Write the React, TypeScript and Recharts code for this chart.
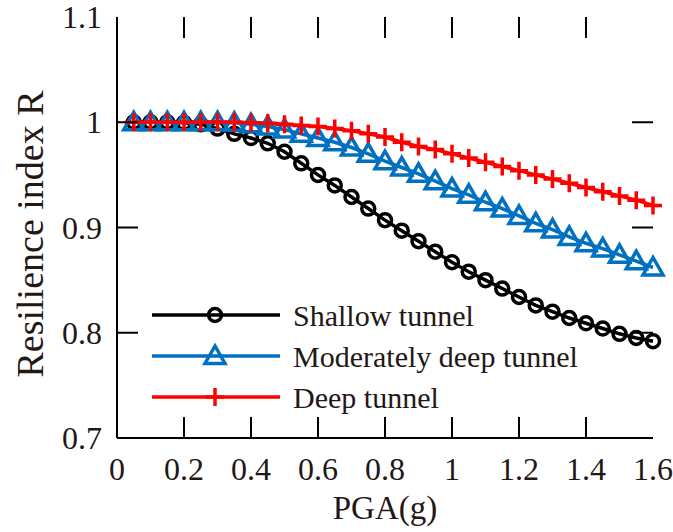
import { LineChart, Line, XAxis, YAxis, Legend } from 'recharts';

const pga = [
  0.05, 0.1, 0.15, 0.2, 0.25, 0.3, 0.35, 0.4, 0.45, 0.5, 0.55, 0.6, 0.65, 0.7, 0.75, 0.8,
  0.85, 0.9, 0.95, 1.0, 1.05, 1.1, 1.15, 1.2, 1.25, 1.3, 1.35, 1.4, 1.45, 1.5, 1.55, 1.6,
];
const shallow = [
  1.0, 1.0, 1.0, 0.9995, 0.998, 0.994, 0.989, 0.985, 0.98, 0.972, 0.961, 0.95, 0.94, 0.929, 0.918, 0.907,
  0.897, 0.887, 0.877, 0.867, 0.858, 0.85, 0.842, 0.834, 0.826, 0.82, 0.814, 0.809, 0.804, 0.799, 0.795, 0.792,
];
const moderate = [
  1.0, 1.0, 1.0, 1.0, 1.0, 1.0, 0.9995, 0.998, 0.996, 0.993, 0.989, 0.985, 0.981, 0.976, 0.97, 0.963,
  0.957, 0.951, 0.944, 0.937, 0.931, 0.924, 0.918, 0.911, 0.904, 0.898, 0.891, 0.885, 0.88, 0.874, 0.868, 0.862,
];
const deep = [
  1.0, 1.0, 1.0, 1.0, 1.0, 1.0, 1.0, 0.9995, 0.999, 0.998, 0.997, 0.996, 0.994, 0.992, 0.989, 0.986,
  0.981, 0.977, 0.974, 0.97, 0.966, 0.962, 0.958, 0.954, 0.95, 0.946, 0.942, 0.938, 0.934, 0.93, 0.926, 0.921,
];
const xTicks = [0, 0.2, 0.4, 0.6, 0.8, 1, 1.2, 1.4, 1.6];
const yTicks = [0.7, 0.8, 0.9, 1, 1.1];

const data = pga.map((x, i) => ({ x, shallow: shallow[i], moderate: moderate[i], deep: deep[i] }));

const W = 673;
const H = 532;
const PLOT_LEFT = 117;
const PLOT_RIGHT = 653;
const PLOT_TOP = 17;
const PLOT_BOTTOM = 438;
const TICK_LEN = 21;
const FONT = '"Liberation Serif", "Times New Roman", serif';
const TEXT = '#231815';
const BLUE = '#0070C0';
const RED = '#FF0000';

function Circle({ cx, cy }: { cx: number; cy: number }) {
  return <circle cx={cx} cy={cy} r={6.5} fill="none" stroke="#000" strokeWidth={3.5} />;
}
function Triangle({ cx, cy }: { cx: number; cy: number }) {
  return (
    <path
      d={`M${cx},${cy - 10}L${cx - 10},${cy + 7.5}L${cx + 10},${cy + 7.5}Z`}
      fill="none"
      stroke={BLUE}
      strokeWidth={3.5}
    />
  );
}
function Plus({ cx, cy }: { cx: number; cy: number }) {
  return (
    <path d={`M${cx - 9},${cy}H${cx + 9}M${cx},${cy - 9}V${cy + 9}`} stroke={RED} strokeWidth={3.5} fill="none" />
  );
}

const XTick = (props: any) => {
  const { x, y, payload } = props;
  const v = payload.value;
  const inner = v > 0 && v < 1.6;
  return (
    <g>
      {inner && <line x1={x} x2={x} y1={PLOT_BOTTOM} y2={PLOT_BOTTOM - TICK_LEN} stroke="#000" strokeWidth={2} />}
      {inner && <line x1={x} x2={x} y1={PLOT_TOP} y2={PLOT_TOP + TICK_LEN} stroke="#000" strokeWidth={2} />}
      <text x={x} y={y + 31} textAnchor="middle" dominantBaseline="central" fontSize={32} fill={TEXT} fontFamily={FONT}>
        {String(v)}
      </text>
    </g>
  );
};

const YTick = (props: any) => {
  const { x, y, payload } = props;
  const v = payload.value;
  const inner = v > 0.7 && v < 1.1;
  return (
    <g>
      {inner && <line x1={PLOT_LEFT} x2={PLOT_LEFT + TICK_LEN} y1={y} y2={y} stroke="#000" strokeWidth={2} />}
      {inner && <line x1={PLOT_RIGHT} x2={PLOT_RIGHT - TICK_LEN} y1={y} y2={y} stroke="#000" strokeWidth={2} />}
      <text x={x} y={y} textAnchor="end" dominantBaseline="central" fontSize={32} fill={TEXT} fontFamily={FONT}>
        {String(v)}
      </text>
    </g>
  );
};

const legendItems = [
  { name: 'Shallow tunnel', color: '#000', Marker: Circle },
  { name: 'Moderately deep tunnel', color: BLUE, Marker: Triangle },
  { name: 'Deep tunnel', color: RED, Marker: Plus },
];

const LegendBox = () => (
  <svg width={440} height={130}>
    {legendItems.map((it, i) => {
      const y = 25 + i * 41;
      return (
        <g key={it.name}>
          <line x1={12} x2={140} y1={y} y2={y} stroke={it.color} strokeWidth={3.5} />
          <it.Marker cx={75} cy={y} />
          <text x={153} y={y} dominantBaseline="central" fontSize={30} fill={TEXT} fontFamily={FONT}>
            {it.name}
          </text>
        </g>
      );
    })}
  </svg>
);

export default function App() {
  return (
    <div style={{ position: 'absolute', left: 0, top: 0, width: W, height: H, background: '#fff' }}>
      <LineChart width={W} height={H} data={data} margin={{ top: PLOT_TOP, right: W - PLOT_RIGHT, bottom: 0, left: 0 }}>
        <XAxis
          dataKey="x"
          type="number"
          domain={[0, 1.6]}
          ticks={xTicks}
          tickSize={0}
          tickMargin={0}
          height={H - PLOT_BOTTOM}
          axisLine={{ stroke: '#000', strokeWidth: 2 }}
          tickLine={false}
          tick={XTick}
          interval={0}
          label={{
            content: () => (
              <text x={(PLOT_LEFT + PLOT_RIGHT) / 2} y={508} textAnchor="middle" dominantBaseline="central" fontSize={33} fill={TEXT} fontFamily={FONT}>
                PGA(g)
              </text>
            ),
          }}
        />
        <XAxis xAxisId="top" orientation="top" type="number" domain={[0, 1.6]} height={0} tick={false} tickLine={false} axisLine={{ stroke: '#000', strokeWidth: 2 }} />
        <YAxis
          type="number"
          domain={[0.7, 1.1]}
          ticks={yTicks}
          width={PLOT_LEFT}
          tickSize={0}
          tickMargin={15}
          axisLine={{ stroke: '#000', strokeWidth: 2 }}
          tickLine={false}
          tick={YTick}
          interval={0}
          label={{
            content: () => (
              <text x={30} y={234} transform="rotate(-90 30 234)" textAnchor="middle" dominantBaseline="central" fontSize={38} fill={TEXT} fontFamily={FONT}>
                Resilience index R
              </text>
            ),
          }}
        />
        <YAxis yAxisId="right" orientation="right" type="number" domain={[0.7, 1.1]} width={0} tick={false} tickLine={false} axisLine={{ stroke: '#000', strokeWidth: 2 }} />
        <Legend
          layout="horizontal"
          verticalAlign="middle"
          align="center"
          content={LegendBox}
          wrapperStyle={{ position: 'absolute', left: 140, top: 290, width: 440, height: 130 }}
        />
        <Line dataKey="shallow" stroke="#000" strokeWidth={3.5} isAnimationActive={false}
          dot={(p: any) => <Circle key={`s${p.index}`} cx={p.cx} cy={p.cy} />} />
        <Line dataKey="moderate" stroke={BLUE} strokeWidth={3.5} isAnimationActive={false}
          dot={(p: any) => <Triangle key={`m${p.index}`} cx={p.cx} cy={p.cy} />} />
        <Line dataKey="deep" stroke={RED} strokeWidth={3.5} isAnimationActive={false}
          dot={(p: any) => <Plus key={`d${p.index}`} cx={p.cx} cy={p.cy} />} />
      </LineChart>
    </div>
  );
}
